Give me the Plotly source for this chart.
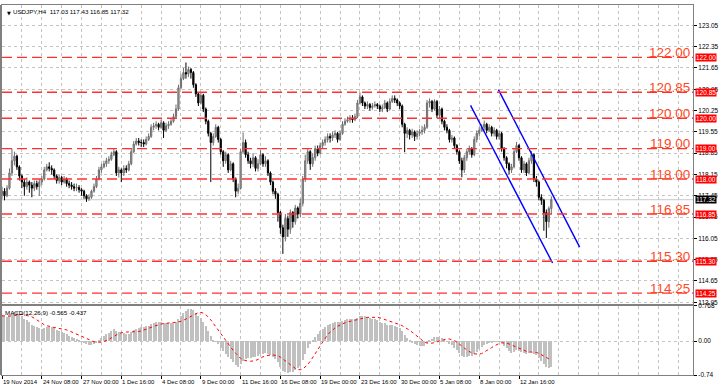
import plotly.graph_objects as go

# ---------------- data ----------------
symbol_text = "USDJPY,H4  117.03 117.43 116.85 117.32"
macd_text = "MACD(12,26,9) -0.565 -0.437"

first_open = 117.50
closes = [
    117.60, 117.45, 117.70, 118.20, 118.60, 118.75, 118.40, 118.10, 117.90, 117.75,
    117.90, 117.80, 117.70, 117.85, 117.75, 117.90, 118.00, 118.30, 118.40, 118.35,
    118.30, 118.10, 117.95, 118.05, 117.90, 118.00, 117.85, 117.80, 117.75, 117.70,
    117.72, 117.65, 117.60, 117.45, 117.35, 117.40, 117.60, 117.75, 118.00, 118.30,
    118.40, 118.50, 118.60, 118.65, 118.80, 118.90, 118.20, 118.30, 118.20, 118.35,
    118.30, 118.50, 118.90, 119.15, 119.25, 119.20, 119.20, 119.15, 119.30, 119.40,
    119.70, 119.75, 119.80, 119.70, 119.85, 119.60, 119.75, 119.80, 119.90, 120.05,
    120.30, 121.00, 121.30, 121.50, 121.45, 121.60, 121.50, 121.10, 120.80, 120.50,
    120.75, 120.30, 119.90, 119.50, 119.20, 119.40, 119.70, 119.30, 118.90, 118.60,
    118.80, 118.30, 118.50, 118.00, 117.60, 117.70, 118.90, 119.20, 118.80, 118.60,
    118.50, 118.70, 118.35, 118.50, 118.80, 118.50, 118.60, 118.20, 117.90, 117.60,
    117.50, 116.90, 116.40, 116.10, 116.70, 116.35, 116.90, 116.60, 117.05, 116.85,
    117.20, 118.00, 118.60, 118.90, 118.50, 118.70, 119.00, 118.85, 119.10, 119.20,
    119.30, 119.40, 119.35, 119.45, 119.50, 119.30, 119.50, 119.80, 119.90, 119.95,
    120.00, 119.95, 120.05, 120.50, 120.70, 120.50, 120.40, 120.45, 120.35, 120.40,
    120.45, 120.40, 120.30, 120.35, 120.50, 120.30, 120.55, 120.65, 120.60, 120.50,
    120.40, 119.80, 119.50, 119.60, 119.45, 119.55, 119.40, 119.50, 119.55, 119.60,
    119.70, 120.50, 120.55, 120.30, 120.55, 120.10, 120.30, 119.90, 119.70, 119.60,
    119.30, 119.35, 119.10, 118.90, 118.60, 118.30, 118.70, 118.90, 119.00, 118.80,
    119.30, 119.50, 119.60, 119.70, 119.80, 119.60, 119.70, 119.50, 119.60, 119.40,
    119.50, 119.00, 118.70, 118.50, 118.30, 118.40, 118.90, 119.10, 118.70, 118.30,
    118.50, 118.20, 118.60, 118.80, 118.00, 117.90, 117.40, 117.30, 116.90, 116.60,
    117.03, 117.32,
]
highs = [
    117.75, 117.70, 117.80, 118.35, 119.00, 118.90, 118.80, 118.45, 118.15, 118.00,
    118.05, 117.95, 117.90, 117.95, 117.95, 118.00, 118.10, 118.40, 118.50, 118.55,
    118.45, 118.35, 118.15, 118.15, 118.10, 118.10, 118.05, 117.95, 117.90, 117.85,
    117.85, 117.80, 117.70, 117.65, 117.50, 117.50, 117.65, 117.85, 118.10, 118.40,
    118.50, 118.60, 118.70, 118.75, 118.90, 119.00, 118.95, 118.40, 118.35, 118.45,
    118.45, 118.60, 119.00, 119.25, 119.35, 119.35, 119.30, 119.30, 119.40, 119.50,
    119.80, 119.85, 119.90, 119.85, 119.95, 119.90, 119.85, 119.90, 120.00, 120.15,
    120.45, 121.10, 121.45, 121.65, 121.83, 121.70, 121.65, 121.55, 121.15, 120.85,
    120.85, 120.80, 120.35, 119.95, 119.55, 119.50, 119.80, 119.75, 119.35, 118.95,
    118.90, 118.85, 118.60, 118.55, 118.05, 117.85, 119.00, 119.53, 119.30, 118.90,
    118.70, 118.85, 118.75, 118.65, 118.95, 118.85, 118.75, 118.65, 118.25, 117.95,
    117.70, 117.55, 116.95, 116.50, 116.85, 116.80, 117.00, 116.95, 117.15, 117.10,
    117.35, 118.10, 118.80, 119.00, 118.95, 118.85, 119.10, 119.10, 119.20, 119.30,
    119.40, 119.50, 119.50, 119.55, 119.60, 119.55, 119.60, 119.90, 120.00, 120.05,
    120.10, 120.10, 120.15, 120.60, 120.85, 120.75, 120.55, 120.55, 120.50, 120.50,
    120.55, 120.50, 120.45, 120.45, 120.60, 120.55, 120.65, 120.75, 120.75, 120.65,
    120.55, 120.45, 119.85, 119.70, 119.65, 119.65, 119.60, 119.60, 119.65, 119.75,
    119.80, 120.60, 120.65, 120.60, 120.62, 120.60, 120.40, 120.35, 119.95, 119.80,
    119.65, 119.45, 119.40, 119.15, 118.95, 118.70, 118.80, 119.00, 119.10, 119.05,
    119.40, 119.60, 119.70, 119.80, 119.92, 119.85, 119.80, 119.75, 119.70, 119.65,
    119.60, 119.55, 119.05, 118.75, 118.55, 118.50, 119.00, 119.22, 119.15, 118.75,
    118.60, 118.55, 118.70, 118.92, 118.85, 118.10, 117.95, 117.50, 117.35, 117.00,
    117.10, 117.43,
]
lows = [
    117.35, 117.30, 117.40, 117.65, 118.10, 118.45, 118.30, 117.95, 117.70, 117.45,
    117.65, 117.55, 117.40, 117.60, 117.65, 117.45, 117.80, 117.95, 118.25, 118.25,
    118.15, 118.00, 117.85, 117.85, 117.80, 117.85, 117.75, 117.70, 117.65, 117.60,
    117.60, 117.55, 117.45, 117.35, 117.25, 117.28, 117.35, 117.55, 117.70, 117.95,
    118.20, 118.35, 118.40, 118.50, 118.60, 118.75, 118.10, 118.05, 117.90, 118.10,
    118.20, 118.25, 118.45, 118.85, 119.10, 119.10, 119.05, 119.05, 119.10, 119.25,
    119.35, 119.60, 119.65, 119.60, 119.65, 119.35, 119.55, 119.65, 119.75, 119.85,
    120.00, 120.25, 120.95, 121.25, 121.30, 121.35, 121.30, 121.00, 120.70, 120.40,
    120.45, 120.20, 119.80, 119.40, 117.90, 119.10, 119.35, 119.20, 118.80, 118.40,
    118.50, 118.20, 118.25, 117.90, 117.40, 117.50, 117.65, 118.85, 118.70, 118.50,
    118.35, 118.40, 118.25, 118.25, 118.45, 118.40, 118.40, 118.10, 117.80, 117.50,
    117.35, 116.60, 116.20, 115.54, 115.95, 116.10, 116.20, 116.40, 116.50, 116.70,
    116.75, 117.10, 117.90, 118.50, 118.30, 118.40, 118.60, 118.75, 118.80, 119.00,
    119.10, 119.20, 119.20, 119.25, 119.35, 119.20, 119.25, 119.45, 119.75, 119.85,
    119.85, 119.85, 119.90, 120.00, 120.45, 120.40, 120.30, 120.30, 120.25, 120.28,
    120.35, 120.30, 120.20, 120.20, 120.30, 120.20, 120.25, 120.50, 120.50, 120.40,
    120.30, 119.70, 118.88, 119.35, 119.30, 119.35, 119.25, 119.30, 119.40, 119.45,
    119.50, 119.65, 120.35, 120.20, 120.25, 120.00, 120.00, 119.80, 119.60, 119.50,
    119.20, 119.20, 119.00, 118.80, 118.50, 118.06, 118.20, 118.60, 118.80, 118.70,
    118.75, 119.20, 119.40, 119.55, 119.60, 119.50, 119.55, 119.40, 119.40, 119.30,
    119.30, 118.90, 118.60, 118.35, 118.15, 118.20, 118.35, 118.85, 118.60, 118.20,
    118.20, 118.10, 118.15, 118.50, 117.90, 117.75, 117.30, 117.15, 116.30, 116.06,
    116.40, 116.85,
]
opens = [first_open] + closes[:-1]
bars = list(range(len(closes)))

# MACD(12,26,9) state carried in from the bars before the window
ema12_start = 117.30
ema26_start = 116.70
macd_prior = [0.58, 0.57, 0.56, 0.55, 0.54, 0.53, 0.52, 0.51]

levels = [122.00, 120.85, 120.00, 119.00, 118.00, 116.85, 115.30, 114.25]
level_labels = ["122.00", "120.85", "120.00", "119.00", "118.00", "116.85", "115.30", "114.25"]
last_price = 117.32
last_label = "117.32"

channel_lower_x = [188.5, 221.5]
channel_lower_y = [120.42, 115.24]
channel_upper_x = [199.7, 232.4]
channel_upper_y = [120.94, 115.76]

price_ticks = [113.95, 114.65, 115.35, 116.05, 116.75, 117.45, 118.15, 118.85,
               119.55, 120.25, 120.95, 121.65, 122.35, 123.05]
macd_ticks = [-0.74, 0.0, 0.768]
macd_tick_text = ["-0.74", "0.00", "0.768"]

date_ticks = [0, 16, 32, 48, 64, 80, 96, 112, 128, 144, 160, 176, 192, 208]
date_labels = ["19 Nov 2014", "24 Nov 08:00", "27 Nov 00:00", "1 Dec 16:00",
               "4 Dec 08:00", "9 Dec 00:00", "11 Dec 16:00", "16 Dec 08:00",
               "19 Dec 00:00", "23 Dec 16:00", "30 Dec 00:00", "5 Jan 08:00",
               "8 Jan 00:00", "12 Jan 16:00"]

# ---------------- MACD computation ----------------
k12, k26 = 2 / 13, 2 / 27
e12, e26 = ema12_start, ema26_start
macd_main = []
for c in closes:
    e12 += k12 * (c - e12)
    e26 += k26 * (c - e26)
    macd_main.append(e12 - e26)
hist_all = macd_prior + macd_main
macd_signal = [sum(hist_all[i:i + 9]) / 9 for i in range(len(macd_main))]

# ---------------- figure ----------------
FONT = "Liberation Sans"
GRID = "#c4c4c4"
fig = go.Figure()

fig.add_trace(go.Candlestick(
    x=bars, open=opens, high=highs, low=lows, close=closes,
    increasing=dict(line=dict(color="#6e6e6e", width=1), fillcolor="#a8a8a8"),
    decreasing=dict(line=dict(color="#000000", width=1), fillcolor="#000000"),
    whiskerwidth=0, xaxis="x", yaxis="y", showlegend=False, hoverinfo="skip",
))

for cx, cy in ((channel_lower_x, channel_lower_y), (channel_upper_x, channel_upper_y)):
    fig.add_trace(go.Scatter(x=cx, y=cy, mode="lines", line=dict(color="#0000ff", width=1.4),
                             xaxis="x", yaxis="y", showlegend=False, hoverinfo="skip"))

fig.add_trace(go.Bar(x=bars, y=macd_main, marker=dict(color="#c0c0c0", line=dict(width=0)),
                     width=0.45, xaxis="x2", yaxis="y2", showlegend=False, hoverinfo="skip"))
fig.add_trace(go.Scatter(x=bars, y=macd_signal, mode="lines",
                         line=dict(color="#ff0000", width=1, dash="dot"),
                         xaxis="x2", yaxis="y2", showlegend=False, hoverinfo="skip"))

shapes = []
for lv in levels:
    shapes.append(dict(type="line", xref="x domain", yref="y", x0=0, x1=1, y0=lv, y1=lv,
                       line=dict(color="#ff3030", width=1.4, dash="10px,5px"), layer="above"))
shapes.append(dict(type="line", xref="x domain", yref="y", x0=0, x1=1, y0=last_price, y1=last_price,
                   line=dict(color="#c8c8c8", width=1), layer="below"))
# left frame bar
shapes.append(dict(type="rect", xref="paper", yref="paper", x0=-0.0029, x1=0.0, y0=0, y1=1,
                   line=dict(width=0), fillcolor="#808080"))

annotations = []
for lv, lab in zip(levels, level_labels):
    annotations.append(dict(xref="x domain", yref="y", x=1, y=lv, text=lab, showarrow=False,
                            xanchor="right", yanchor="middle", xshift=-1, yshift=5,
                            font=dict(family=FONT, size=13.5, color="#ff4a1c")))
    annotations.append(dict(xref="x domain", yref="y", x=1, y=lv, text=lab, showarrow=False,
                            xanchor="left", yanchor="middle", xshift=2, bgcolor="#ff0000",
                            borderpad=0, font=dict(family=FONT, size=6.5, color="#ffffff")))
annotations.append(dict(xref="x domain", yref="y", x=1, y=last_price, text=last_label, showarrow=False,
                        xanchor="left", yanchor="middle", xshift=2, bgcolor="#000000",
                        borderpad=0, font=dict(family=FONT, size=6.5, color="#ffffff")))
annotations.append(dict(xref="paper", yref="paper", x=0, y=1, text="▼", showarrow=False,
                        xanchor="left", yanchor="top", xshift=3, yshift=-3,
                        font=dict(family="DejaVu Sans", size=5, color="#000000")))
annotations.append(dict(xref="paper", yref="paper", x=0, y=1, text=symbol_text, showarrow=False,
                        xanchor="left", yanchor="top", xshift=9, yshift=-1,
                        font=dict(family=FONT, size=6.2, color="#000000")))
annotations.append(dict(xref="paper", yref="y2 domain", x=0, y=1, text=macd_text, showarrow=False,
                        xanchor="left", yanchor="top", xshift=1, yshift=-1,
                        font=dict(family=FONT, size=6.2, color="#000000")))
for t, lab in zip(date_ticks, date_labels):
    annotations.append(dict(xref="x2", yref="paper", x=t, y=0, text=lab, showarrow=False,
                            xanchor="left", yanchor="top", xshift=-1, yshift=-2,
                            font=dict(family=FONT, size=6, color="#000000")))

xcommon = dict(range=[0, 278], showgrid=True, gridcolor=GRID, griddash="dot", gridwidth=1,
               zeroline=False, showline=True, linecolor="#808080", linewidth=1, mirror=True,
               tickmode="array", tickvals=date_ticks, showticklabels=False,
               minor=dict(dtick=8, tick0=0, showgrid=True, gridcolor=GRID, griddash="dot", ticks=""),
               rangeslider=dict(visible=False), fixedrange=True)

fig.update_layout(
    width=720, height=389,
    margin=dict(l=2, r=26, t=1, b=14),
    paper_bgcolor="#ffffff", plot_bgcolor="#ffffff",
    xaxis=dict(**xcommon, anchor="y", ticks=""),
    xaxis2=dict(**xcommon, anchor="y2", matches="x", ticks="outside", ticklen=3, tickcolor="#000000"),
    yaxis=dict(domain=[0.1925, 1.0], range=[113.90, 123.72], side="right",
               tickmode="array", tickvals=price_ticks, ticktext=[f"{v:.2f}" for v in price_ticks],
               ticks="outside", ticklen=3, tickcolor="#000000",
               tickfont=dict(family=FONT, size=6.5, color="#000000"),
               showgrid=True, gridcolor=GRID, griddash="dot", zeroline=False,
               showline=True, linecolor="#808080", mirror=True, fixedrange=True),
    yaxis2=dict(domain=[0.0, 0.187], range=[-0.74, 0.768], side="right",
                tickmode="array", tickvals=macd_ticks, ticktext=macd_tick_text,
                ticks="outside", ticklen=3, tickcolor="#000000",
                tickfont=dict(family=FONT, size=6.5, color="#000000"),
                showgrid=True, gridcolor=GRID, griddash="dot", zeroline=False,
                showline=True, linecolor="#808080", mirror=True, fixedrange=True),
    shapes=shapes, annotations=annotations, bargap=0,
)

fig.write_html("out.html", config={"displayModeBar": False},
               post_script="document.body.style.margin='0';document.body.style.overflow='hidden';")
